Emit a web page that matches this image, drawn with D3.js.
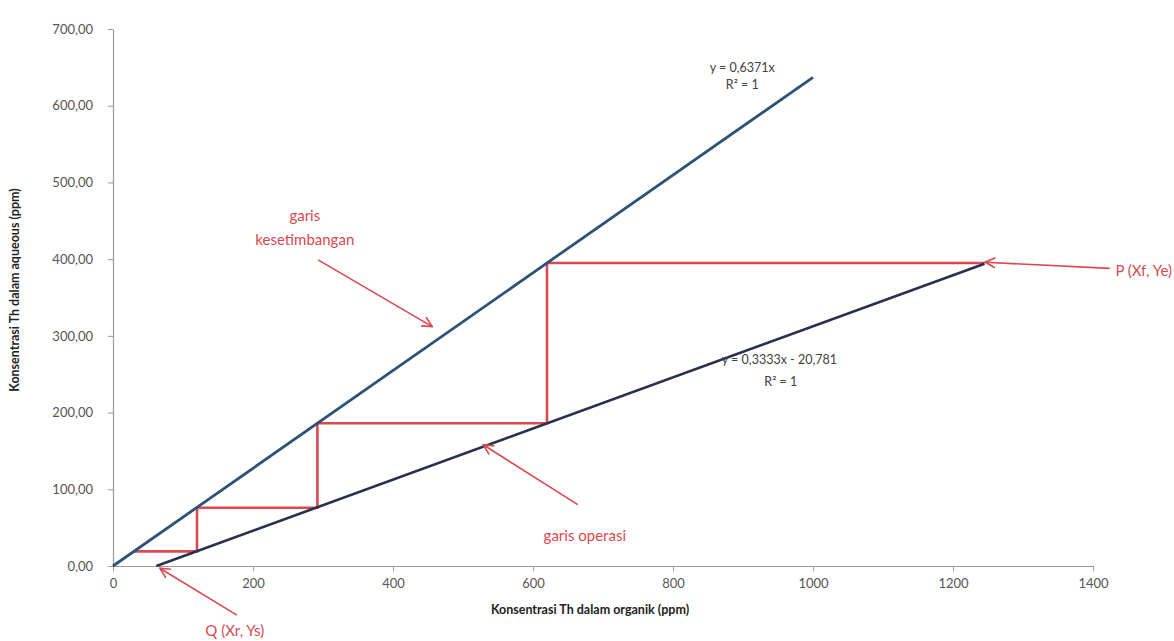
<!DOCTYPE html>
<html>
<head>
<meta charset="utf-8">
<script src="https://cdn.jsdelivr.net/npm/d3@7"></script>
<style>
  body { margin: 0; background: #fff; }
  svg { display: block; font-family: Lato, "Liberation Sans", sans-serif; }
</style>
</head>
<body>
<svg></svg>
<script>
var width = 1174;
var height = 641;

// tick values
var xTicks = [0, 200, 400, 600, 800, 1000, 1200, 1400];
var yTicks = [0, 100, 200, 300, 400, 500, 600, 700];

// garis kesetimbangan (y = 0,6371x)
var equilibrium = [[0, 0], [1000, 637]];

// garis operasi (y = 0,3333x - 20,781)
var operating = [[62, 0], [1245, 394]];

// stage steps
var steps = [
  [1245, 395], [620, 395], [620, 186], [292, 186],
  [292, 76], [120, 76], [120, 19], [30, 19]
];

var svg = d3.select("svg")
  .attr("width", width)
  .attr("height", height);

var xScale = d3.scaleLinear()
  .domain([0, 1400])
  .range([113, 1093]);

var yScale = d3.scaleLinear()
  .domain([0, 700])
  .range([566, 29]);

var red = "#d9494f";

svg.append("defs").append("marker")
  .attr("id", "arrow")
  .attr("viewBox", "0 0 12 12")
  .attr("refX", 11)
  .attr("refY", 6)
  .attr("markerWidth", 12)
  .attr("markerHeight", 12)
  .attr("markerUnits", "userSpaceOnUse")
  .attr("orient", "auto")
  .append("path")
    .attr("d", "M1,1 L11,6 L1,11")
    .attr("fill", "none")
    .attr("stroke", red)
    .attr("stroke-width", 1.6);

// axes
var xAxis = d3.axisBottom(xScale)
  .tickValues(xTicks)
  .tickSize(5)
  .tickSizeOuter(0)
  .tickPadding(8)
  .tickFormat(d3.format("d"));

var yAxis = d3.axisLeft(yScale)
  .tickValues(yTicks)
  .tickSize(5)
  .tickSizeOuter(0)
  .tickPadding(15)
  .tickFormat(d => d3.format(".2f")(d).replace(".", ","));

var gx = svg.append("g")
  .attr("transform", "translate(0," + yScale(0) + ")")
  .call(xAxis);

var gy = svg.append("g")
  .attr("transform", "translate(" + xScale(0) + ",0)")
  .call(yAxis);

[gx, gy].forEach(function (g) {
  g.select(".domain").attr("stroke", "#9a9a9a").attr("stroke-width", 1.2);
  g.selectAll(".tick line").attr("stroke", "#9a9a9a");
  g.selectAll(".tick text")
    .attr("fill", "#555")
    .attr("font-size", 13)
    .attr("font-family", "Lato, sans-serif");
});

svg.append("text")
  .attr("x", 590)
  .attr("y", 614)
  .attr("text-anchor", "middle")
  .attr("font-weight", "bold")
  .attr("font-size", 12.5)
  .attr("fill", "#222")
  .text("Konsentrasi Th dalam organik (ppm)");

svg.append("text")
  .attr("transform", "translate(19,290) rotate(-90)")
  .attr("text-anchor", "middle")
  .attr("font-weight", "bold")
  .attr("font-size", 12.5)
  .attr("fill", "#222")
  .text("Konsentrasi Th dalam aqueous (ppm)");

var line = d3.line()
  .x(d => xScale(d[0]))
  .y(d => yScale(d[1]));

// red stage lines
svg.append("path")
  .datum(steps)
  .attr("d", line)
  .attr("fill", "none")
  .attr("stroke", red)
  .attr("stroke-width", 2.6);

svg.append("path")
  .datum(equilibrium)
  .attr("d", line)
  .attr("fill", "none")
  .attr("stroke", "#2d5276")
  .attr("stroke-width", 2.8);

svg.append("path")
  .datum(operating)
  .attr("d", line)
  .attr("fill", "none")
  .attr("stroke", "#29304d")
  .attr("stroke-width", 2.6);

// trendline labels
function eqLabel(x, y, txt) {
  svg.append("text")
    .attr("x", xScale(x))
    .attr("y", yScale(y))
    .attr("text-anchor", "middle")
    .attr("font-size", 12.5)
    .attr("fill", "#404040")
    .text(txt);
}
eqLabel(899, 644, "y = 0,6371x");
eqLabel(899, 622, "R² = 1");
eqLabel(952, 263, "y = 0,3333x - 20,781");
eqLabel(954, 234, "R² = 1");

// red annotations
function note(x, y, txt, anchor) {
  svg.append("text")
    .attr("x", xScale(x))
    .attr("y", yScale(y))
    .attr("text-anchor", anchor || "middle")
    .attr("font-size", 15)
    .attr("fill", red)
    .text(txt);
}
note(274, 450, "garis");
note(274, 418, "kesetimbangan");
note(674, 33, "garis operasi");
note(1432, 378, "P (Xf, Ye)", "start");
note(174, -91, "Q (Xr, Ys)");

function arrow(x1, y1, x2, y2) {
  svg.append("line")
    .attr("x1", xScale(x1))
    .attr("y1", yScale(y1))
    .attr("x2", xScale(x2))
    .attr("y2", yScale(y2))
    .attr("stroke", red)
    .attr("stroke-width", 1.6)
    .attr("marker-end", "url(#arrow)");
}
arrow(293, 399, 456, 312);
arrow(664, 80, 529, 158);
arrow(1424, 388, 1246, 396);
arrow(177, -64, 67, -3);
</script>
</body>
</html>
